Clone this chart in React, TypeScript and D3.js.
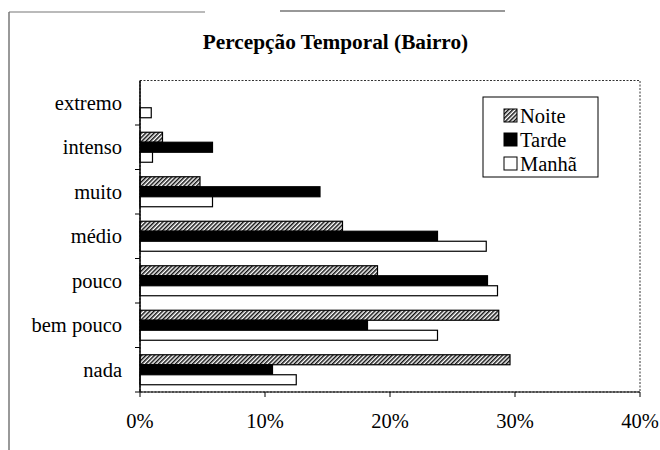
import React from "react";
import * as d3 from "d3";

const categories = ["extremo", "intenso", "muito", "médio", "pouco", "bem pouco", "nada"];
const seriesNames = ["Noite", "Tarde", "Manhã"];
const noite = [0, 1.8, 4.8, 16.2, 19.0, 28.7, 29.6];
const tarde = [0, 5.8, 14.4, 23.8, 27.8, 18.2, 10.6];
const manha = [0.9, 1.0, 5.8, 27.7, 28.6, 23.8, 12.5];
const xTicks = [0, 10, 20, 30, 40];
const title = "Percepção Temporal (Bairro)";

const W = 660;
const H = 450;
const plot = { left: 140, right: 640, top: 80.5, bottom: 392 };
const serif = `"Liberation Serif", "Times New Roman", serif`;

export default function App() {
  const x = d3.scaleLinear().domain([0, 40]).range([plot.left, plot.right]);
  const y = d3.scaleBand<string>().domain(categories).range([plot.top, plot.bottom]).padding(0);
  const inner = d3
    .scaleBand<string>()
    .domain(seriesNames)
    .range([0, y.bandwidth()])
    .paddingInner(0)
    .paddingOuter(0.725);
  const values: Record<string, number[]> = { Noite: noite, Tarde: tarde, Manhã: manha };
  const fills: Record<string, string> = { Noite: "url(#hatch)", Tarde: "#000", Manhã: "#fff" };
  const ts = { fontFamily: serif };

  return (
    <svg width={W} height={H} style={{ position: "absolute", left: 0, top: 0, background: "#fff" }}>
      <defs>
        <pattern id="hatch" width="3" height="3" patternUnits="userSpaceOnUse" patternTransform="rotate(45)">
          <rect width="3" height="3" fill="#fff" />
          <rect width="1.5" height="3" fill="#111" />
        </pattern>
      </defs>
      <rect x={0} y={0} width={W} height={H} fill="#fff" />

      {/* outer frame remnants */}
      <line x1={9} y1={12} x2={9} y2={450} stroke="#777" strokeWidth={1.5} />
      <line x1={9} y1={12} x2={205} y2={12} stroke="#777" strokeWidth={1.2} />
      <line x1={280} y1={11} x2={505} y2={11} stroke="#333" strokeWidth={1.2} />

      <text x={335.5} y={49} textAnchor="middle" fontSize={21.3} fontWeight="bold" fill="#000" style={ts}>
        {title}
      </text>

      {/* plot area border (dotted) */}
      <rect
        x={plot.left}
        y={plot.top}
        width={plot.right - plot.left}
        height={plot.bottom - plot.top}
        fill="none"
        stroke="#333"
        strokeWidth={1}
        strokeDasharray="2,1.5"
      />

      {/* bars */}
      {categories.map((c, i) => (
        <g key={c} transform={`translate(0,${y(c)})`}>
          {seriesNames.map((s) => {
            const v = values[s][i];
            if (v <= 0) return null;
            return (
              <rect
                key={s}
                x={x(0)}
                y={inner(s)}
                width={x(v) - x(0)}
                height={inner.bandwidth()}
                fill={fills[s]}
                stroke="#000"
                strokeWidth={1.2}
              />
            );
          })}
        </g>
      ))}

      {/* y axis */}
      <line x1={plot.left} y1={plot.top} x2={plot.left} y2={plot.bottom} stroke="#000" strokeWidth={1.5} />
      {categories.map((c) => (
        <line
          key={"t" + c}
          x1={plot.left - 5}
          x2={plot.left}
          y1={(y(c) as number) + y.bandwidth()}
          y2={(y(c) as number) + y.bandwidth()}
          stroke="#000"
        />
      ))}
      {categories.map((c) => (
        <text
          key={"l" + c}
          x={122}
          y={(y(c) as number) + y.bandwidth() / 2}
          dy="0.35em"
          textAnchor="end"
          fontSize={20.5}
          fill="#000"
          style={ts}
        >
          {c}
        </text>
      ))}

      {/* x axis */}
      <line x1={plot.left} y1={plot.bottom} x2={plot.right} y2={plot.bottom} stroke="#000" strokeWidth={1.2} />
      {xTicks.map((t) => (
        <g key={"x" + t}>
          <line x1={x(t)} x2={x(t)} y1={plot.bottom} y2={plot.bottom + 5} stroke="#000" />
          <text x={x(t)} y={428} textAnchor="middle" fontSize={20.5} fill="#000" style={ts}>
            {t}%
          </text>
        </g>
      ))}

      {/* legend */}
      <rect x={483} y={97} width={115} height={80} fill="#fff" stroke="#000" strokeWidth={1} />
      {seriesNames.map((s, i) => (
        <g key={"lg" + s} transform={`translate(504,${109 + i * 24})`}>
          <rect x={0} y={0} width={13} height={13} fill={fills[s]} stroke="#000" strokeWidth={1} />
          <text x={16} y={6.5} dy="0.35em" fontSize={20.5} fill="#000" style={ts}>
            {s}
          </text>
        </g>
      ))}
    </svg>
  );
}
